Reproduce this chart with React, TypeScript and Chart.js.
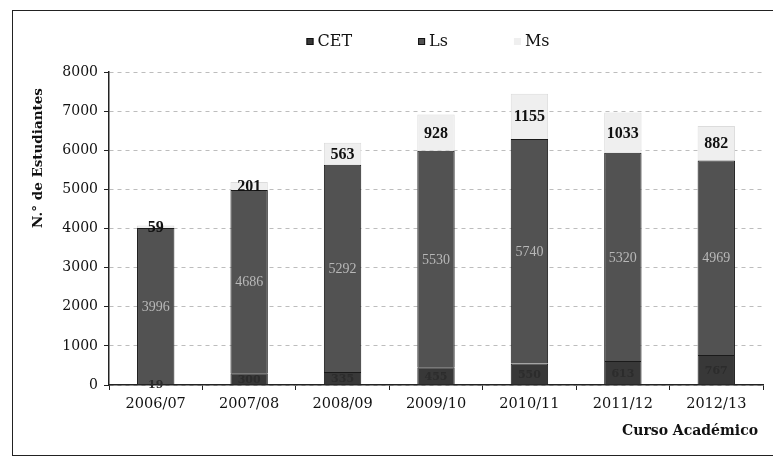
import React, { useEffect, useRef } from "react";
import { Chart, registerables } from "chart.js";

Chart.register(...registerables);

const categories = ["2006/07", "2007/08", "2008/09", "2009/10", "2010/11", "2011/12", "2012/13"];
const cetValues = [19, 300, 335, 455, 550, 613, 767];
const lsValues = [3996, 4686, 5292, 5530, 5740, 5320, 4969];
const msValues = [59, 201, 563, 928, 1155, 1033, 882];
const yTicks = [0, 1000, 2000, 3000, 4000, 5000, 6000, 7000, 8000];

const SERIF = "'DejaVu Serif', serif";

const labelPlugin = {
  id: "segLabels",
  afterDatasetsDraw(chart: any) {
    const ctx = chart.ctx;
    const styles = [
      { font: `bold 11px ${SERIF}`, color: "#2c2c2c" },
      { font: `14px 'Liberation Serif', serif`, color: "#b8b8b8" },
      { font: `bold 16px 'Liberation Serif', serif`, color: "#111" },
    ];
    chart.data.datasets.forEach((ds: any, di: number) => {
      const meta = chart.getDatasetMeta(di);
      meta.data.forEach((el: any, i: number) => {
        const { x, y, base } = el.getProps(["x", "y", "base"], true);
        const cy = (y + base) / 2;
        ctx.save();
        ctx.font = styles[di].font;
        ctx.fillStyle = styles[di].color;
        ctx.textAlign = "center";
        ctx.textBaseline = "middle";
        ctx.fillText(String(ds.data[i]), x, cy + 1);
        ctx.restore();
      });
    });
  },
};

const decorPlugin = {
  id: "decor",
  afterDraw(chart: any) {
    const ctx = chart.ctx;
    // legend
    ctx.save();
    ctx.font = `16px ${SERIF}`;
    ctx.textBaseline = "middle";
    const items = chart.data.datasets.map((ds: any) => ({
      label: ds.label,
      color: ds.backgroundColor,
      w: 7 + 4 + ctx.measureText(ds.label).width,
    }));
    const gap = 66;
    const total = items.reduce((s: number, it: any) => s + it.w, 0) + gap * (items.length - 1);
    let x = 428 - total / 2;
    const ly = 42;
    items.forEach((it: any, idx: number) => {
      ctx.fillStyle = it.color;
      ctx.fillRect(x, ly - 4, 7, 7);
      if (idx < 2) {
        ctx.strokeStyle = "#111";
        ctx.lineWidth = 1;
        ctx.strokeRect(x + 0.5, ly - 3.5, 6, 6);
      }
      ctx.fillStyle = "#111";
      ctx.textAlign = "left";
      ctx.fillText(it.label, x + 11, ly);
      x += it.w + gap;
    });
    ctx.restore();

    // y title
    ctx.save();
    ctx.font = `bold 13.5px ${SERIF}`;
    ctx.fillStyle = "#111";
    ctx.translate(38, 158);
    ctx.rotate(-Math.PI / 2);
    ctx.textAlign = "center";
    ctx.textBaseline = "middle";
    ctx.fillText("N.° de Estudiantes", 0, 0);
    ctx.restore();

    // x title
    ctx.save();
    ctx.font = `bold 14px ${SERIF}`;
    ctx.fillStyle = "#111";
    ctx.textAlign = "right";
    ctx.textBaseline = "middle";
    ctx.fillText("Curso Académico", 758, 431);
    ctx.restore();
  },
};

export default function App() {
  const ref = useRef<HTMLCanvasElement | null>(null);

  useEffect(() => {
    if (!ref.current) return;
    const chart = new Chart(ref.current, {
      type: "bar",
      data: {
        labels: categories,
        datasets: [
          {
            label: "CET",
            data: cetValues,
            backgroundColor: "#383838",
            borderColor: "#1a1a1a",
            borderWidth: 1,
          },
          {
            label: "Ls",
            data: lsValues,
            backgroundColor: "#525252",
            borderColor: "#1a1a1a",
            borderWidth: 1,
          },
          {
            label: "Ms",
            data: msValues,
            backgroundColor: "#efefef",
            borderColor: "#dcdcdc",
            borderWidth: 1,
          },
        ],
      },
      options: {
        responsive: false,
        animation: false,
        datasets: { bar: { barPercentage: 0.4, categoryPercentage: 1 } },
        layout: { padding: { left: 0, right: 10, top: 72, bottom: 43 } },
        plugins: { legend: { display: false }, tooltip: { enabled: false } },
        scales: {
          x: {
            stacked: true,
            afterFit: (s: any) => {
              s.height = 30;
            },
            grid: {
              drawOnChartArea: false,
              drawTicks: true,
              tickLength: 5,
              tickColor: "#222",
              offset: true,
            },
            border: { display: true, color: "#222", width: 1.5 },
            ticks: {
              color: "#111",
              padding: 6,
              font: { family: "'DejaVu Serif', serif", size: 14.5 },
              maxRotation: 0,
            },
          },
          y: {
            stacked: true,
            min: 0,
            max: 8000,
            afterFit: (s: any) => {
              s.width = 109;
            },
            afterBuildTicks: (s: any) => {
              s.ticks = yTicks.map((v) => ({ value: v }));
            },
            grid: {
              color: "#bdbdbd",
              lineWidth: 1,
              tickBorderDash: [],
              tickColor: "#222",
              tickLength: 5,
            },
            border: { display: true, color: "#222", width: 1.5, dash: [4, 4] },
            ticks: {
              color: "#111",
              padding: 6,
              font: { family: "'DejaVu Serif', serif", size: 14 },
              callback: (v: any) => String(v),
            },
          },
        },
      },
      plugins: [labelPlugin, decorPlugin],
    });
    return () => chart.destroy();
  }, []);

  return (
    <div style={{ position: "absolute", left: 0, top: 0, width: 773, height: 458, background: "#fff", overflow: "hidden" }}>
      <div
        style={{
          position: "absolute",
          left: 12,
          top: 10,
          width: 800,
          height: 446,
          border: "1.5px solid #222",
          boxSizing: "border-box",
        }}
      />
      <canvas ref={ref} width={773} height={458} style={{ position: "absolute", left: 0, top: 0, width: 773, height: 458 }} />
    </div>
  );
}
